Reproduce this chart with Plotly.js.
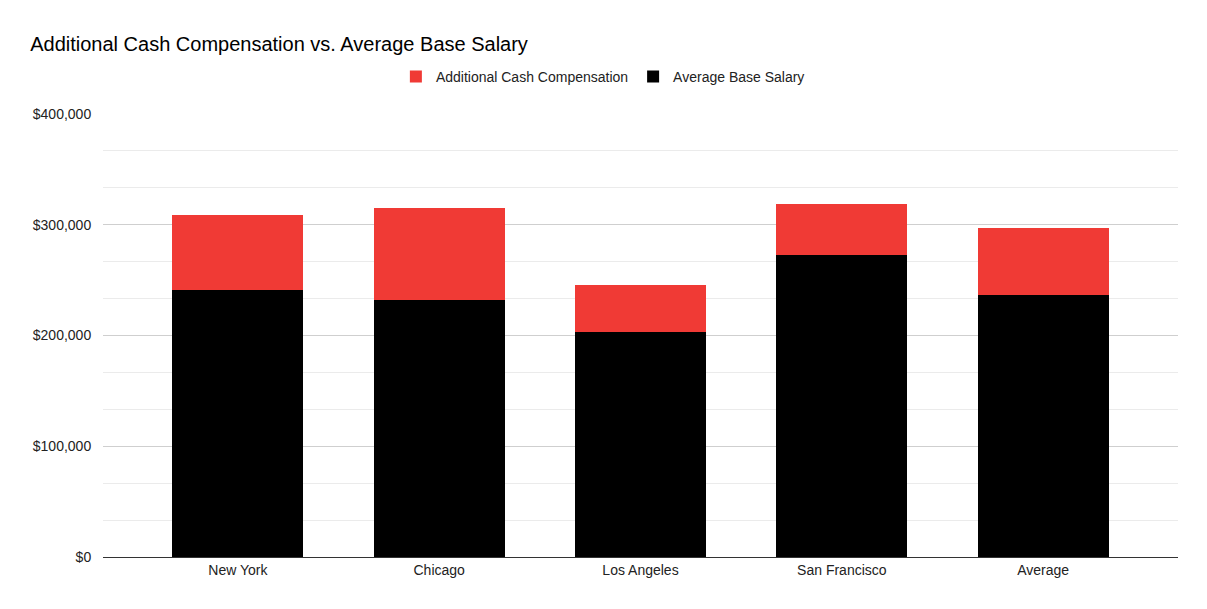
<!DOCTYPE html>
<html>
<head>
<script src="https://cdn.plot.ly/plotly-3.0.1.min.js"></script>
<style>body{margin:0;background:#fff}</style>
</head>
<body>
<div id="chart" style="width:1207px;height:609px"></div>
<script>
// values
const cities = ['New York', 'Chicago', 'Los Angeles', 'San Francisco', 'Average'];
const baseSalary = [241000, 232000, 203000, 273000, 237000];
const additionalCash = [68000, 83000, 43000, 46000, 60000];

const traces = [
    { x: cities, y: baseSalary, name: 'Average Base Salary', type: 'bar', marker: { color: '#000000' } },
    { x: cities, y: additionalCash, name: 'Additional Cash Compensation', type: 'bar', marker: { color: '#f03a35' } }
];

const layout = {
    barmode: 'stack',
    bargap: 0.35,
    font: { family: 'Arial, Liberation Sans, sans-serif', size: 14, color: '#222' },
    title: { text: 'Additional Cash Compensation vs. Average Base Salary', x: 0.025, xanchor: 'left', y: 0.94, font: { size: 20, color: '#000' } },
    legend: { orientation: 'h', x: 0.465, xanchor: 'center', y: 1.12, traceorder: 'reversed', font: { size: 14 } },
    margin: { l: 103, r: 29, t: 114, b: 52 },
    xaxis: { range: [-0.67, 4.67], showline: true, linecolor: '#333', tickfont: { size: 14, color: '#222' } },
    yaxis: {
        range: [0, 400000], dtick: 100000, tickprefix: '$', tickformat: ',d',
        gridcolor: '#cfcfcf', zeroline: false, ticks: 'outside', ticklen: 8, tickcolor: 'rgba(0,0,0,0)',
        minor: { dtick: 100000 / 3, showgrid: true, gridcolor: '#ebebeb', ticks: '' },
        tickfont: { size: 14, color: '#222' }
    },
    plot_bgcolor: '#fff', paper_bgcolor: '#fff'
};

Plotly.newPlot('chart', traces, layout, { staticPlot: true });
</script>
</body>
</html>
